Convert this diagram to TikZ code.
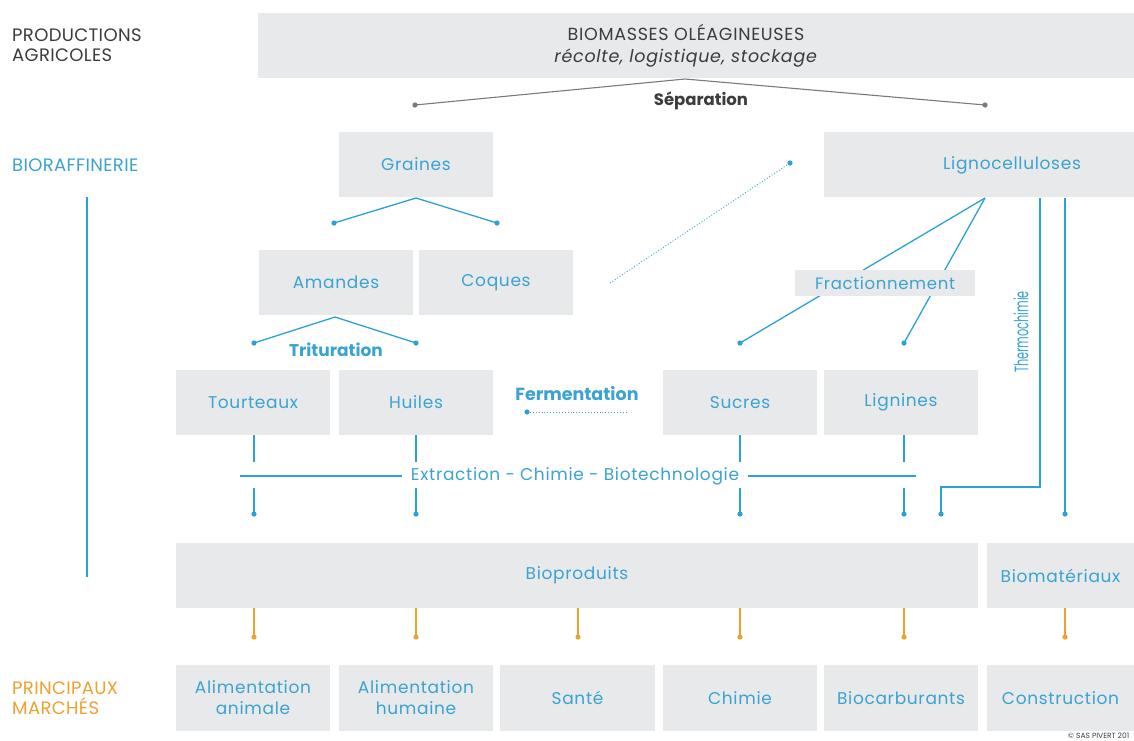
\documentclass[tikz,border=0pt]{standalone}
\usepackage{fontspec}
\setmainfont{Poppins}
\newfontfamily\bxfont[LetterSpace=4]{Poppins}
\newfontfamily\sdfont[LetterSpace=2]{Poppins}
\definecolor{boxgray}{HTML}{E7E9EA}
\definecolor{bblue}{HTML}{2AA2D6}
\definecolor{tblue}{HTML}{3AA3D2}
\definecolor{borange}{HTML}{EFA12E}
\definecolor{torange}{HTML}{EDA53C}
\definecolor{dgray}{HTML}{3C3C3C}
\definecolor{lgray}{HTML}{7A7A7A}
\begin{document}
\begin{tikzpicture}[x=1pt,y=-1pt,
  box/.style={fill=boxgray, inner sep=0pt, text=tblue, font=\bxfont\fontsize{17}{21}\selectfont, align=center},
  bl/.style={draw=bblue, line width=1.3pt},
  ol/.style={draw=borange, line width=1.3pt},
  gl/.style={draw=lgray, line width=1.1pt},
  bdot/.style={fill=bblue},
  odot/.style={fill=borange},
  gdot/.style={fill=lgray},
  dotl/.style={draw=bblue, line width=0.9pt, dotted},
  sidelab/.style={anchor=west, align=left, inner sep=0pt, font=\sdfont\fontsize{18}{20.5}\selectfont},
  blab/.style={text=tblue, font=\bxfont\fontsize{17}{21}\selectfont, inner sep=1pt}
]
\useasboundingbox (0,0) rectangle (1134,740);
\fill[white] (0,0) rectangle (1134,740);

% ---------- side labels ----------
\node[sidelab, text=dgray] (prod) at (12,45) {PRODUCTIONS\\AGRICOLES};
\node[sidelab, text=tblue] (biora) at (12,165) {BIORAFFINERIE};
\node[sidelab, text=borange] (marches) at (12,698) {PRINCIPAUX\\MARCHÉS};
\coordinate (vt) at (87,197);
\coordinate (vb) at (87,577);
\draw[bl, line width=1.1pt] (vt) -- (vb);

% ---------- top ----------
\node[box, minimum width=876pt, minimum height=65pt] (bio) at (696,45.5) {};
\node[text=dgray, align=center, font=\bxfont\fontsize{17.5}{22}\selectfont] (biot) at (686,46)
  {BIOMASSES OLÉAGINEUSES\\\textit{récolte, logistique, stockage}};
\coordinate (sepA) at (685,79);
\coordinate (sepL) at (415,105);
\coordinate (sepR) at (985,105);
\draw[gl] (sepL) -- (sepA) -- (sepR);
\fill[gdot] (sepL) circle (2.6);
\fill[gdot] (sepR) circle (2.6);
\node[text=dgray, font=\fontsize{16.5}{19}\selectfont\bfseries] (sep) at (701,101) {Séparation};

% ---------- row 1 ----------
\node[box, minimum width=154pt, minimum height=65pt] (gra) at (416,164.5) {Graines};
\node[box, minimum width=310pt, minimum height=65pt] (lig) at (979,164.5) {};
\node[blab] (ligt) at (1012,165) {Lignocelluloses};

% graines branch
\coordinate (gA) at (416,198);
\coordinate (gL) at (334,223);
\coordinate (gR) at (497,223);
\draw[bl] (gL) -- (gA) -- (gR);
\fill[bdot] (gL) circle (2.6);
\fill[bdot] (gR) circle (2.6);

% ---------- row 2 ----------
\node[box, minimum width=154pt, minimum height=65pt] (ama) at (336,282.5) {Amandes};
\node[box, minimum width=154pt, minimum height=65pt] (coq) at (496,282.5) {Coques};

% dotted link coques - ligno
\coordinate (dcS) at (610,283);
\coordinate (dcE) at (790,163);
\draw[dotl] (dcS) -- (dcE);
\fill[bdot] (dcE) circle (2.6);

% trituration
\coordinate (aA) at (335,317);
\coordinate (aL) at (254,343);
\coordinate (aR) at (416,343);
\draw[bl] (aL) -- (aA) -- (aR);
\fill[bdot] (aL) circle (2.6);
\fill[bdot] (aR) circle (2.6);
\node[text=tblue, font=\fontsize{17}{20}\selectfont\bfseries] (trit) at (336,350) {Trituration};

% fractionnement
\coordinate (fA) at (985,198);
\coordinate (fL) at (740,343);
\coordinate (fR) at (904,343);
\draw[bl] (fA) -- (fL);
\draw[bl] (fA) -- (fR);
\fill[bdot] (fL) circle (2.6);
\fill[bdot] (fR) circle (2.6);
\node[box, minimum width=180pt, minimum height=26pt, font=\bxfont\fontsize{16.5}{20}\selectfont] (frac) at (885,283) {Fractionnement};

% thermochimie
\coordinate (t1a) at (1040,198);
\coordinate (t1b) at (1040,487);
\coordinate (t1c) at (941,487);
\coordinate (t1d) at (941,514);
\coordinate (t2a) at (1065,198);
\coordinate (t2b) at (1065,514);
\draw[bl] (t1a) -- (t1b) -- (t1c) -- (t1d);
\draw[bl] (t2a) -- (t2b);
\fill[bdot] (t1d) circle (2.6);
\fill[bdot] (t2b) circle (2.6);
\node[rotate=90, text=tblue, font=\fontsize{19.5}{22}\selectfont, inner sep=0pt] (therm) at (1021,332) {\scalebox{0.58}[1]{Thermochimie}};

% ---------- row 3 ----------
\node[box, minimum width=154pt, minimum height=65pt] (tou) at (253,402.5) {Tourteaux};
\node[box, minimum width=154pt, minimum height=65pt] (hui) at (416,402.5) {Huiles};
\node[box, minimum width=154pt, minimum height=65pt] (suc) at (740,402.5) {Sucres};
\node[box, minimum width=154pt, minimum height=65pt] (lgn) at (901,402.5) {Lignines};

% fermentation
\node[text=tblue, font=\fontsize{17.5}{20}\selectfont\bfseries] (ferm) at (577,394) {Fermentation};
\coordinate (feL) at (527,412);
\coordinate (feR) at (627,412);
\draw[dotl] (feL) -- (feR);
\fill[bdot] (feL) circle (2.6);

% extraction
\node[blab, inner xsep=9pt] (ext) at (575,476) {Extraction - Chimie - Biotechnologie};
\coordinate (exL) at (240,476);
\coordinate (exR) at (916,476);
\draw[bl, line width=1.1pt] (exL) -- (ext.west);
\draw[bl, line width=1.1pt] (ext.east) -- (exR);

\foreach \n/\x in {tou/254, hui/416, suc/740, lgn/904}{
  \coordinate (\n u) at (\x,462);
  \coordinate (\n v) at (\x,488);
  \coordinate (\n w) at (\x,514);
  \draw[bl] (\n.south -| \n u) -- (\n u);
  \draw[bl] (\n v) -- (\n w);
  \fill[bdot] (\n w) circle (2.6);
}

% ---------- row 4 ----------
\node[box, minimum width=802pt, minimum height=65pt] (bprod) at (577,575.5) {Bioproduits};
\node[box, minimum width=147pt, minimum height=65pt] (bmat) at (1060.5,575.5) {Biomatériaux};

\foreach \i/\x in {1/254, 2/416, 3/578, 4/740, 5/904}{
  \coordinate (o\i) at (\x,637);
  \draw[ol] (bprod.south -| o\i) -- (o\i);
  \fill[odot] (o\i) circle (2.6);
}
\coordinate (o6) at (1065,637);
\draw[ol] (bmat.south -| o6) -- (o6);
\fill[odot] (o6) circle (2.6);

% ---------- markets ----------
\begin{scope}[every node/.append style={text=torange, font=\bxfont\fontsize{17}{21}\selectfont}]
\node[box, minimum width=154pt, minimum height=66pt] (m1) at (253,698) {Alimentation\\animale};
\node[box, minimum width=154pt, minimum height=66pt] (m2) at (416,698) {Alimentation\\humaine};
\node[box, minimum width=155pt, minimum height=66pt] (m3) at (577.5,698) {Santé};
\node[box, minimum width=154pt, minimum height=66pt] (m4) at (740,698) {Chimie};
\node[box, minimum width=154pt, minimum height=66pt] (m5) at (901,698) {Biocarburants};
\node[box, minimum width=147pt, minimum height=66pt] (m6) at (1060.5,698) {Construction};
\end{scope}

\node[anchor=west, text=dgray, font=\fontsize{7.5}{9}\selectfont, inner sep=0pt] (copy) at (1068,736) {© SAS PIVERT 201};
\end{tikzpicture}
\end{document}
